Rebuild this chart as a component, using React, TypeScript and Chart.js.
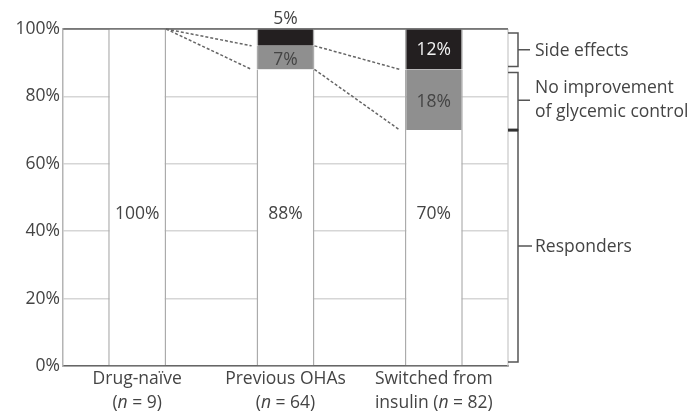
import React, { useEffect, useRef } from "react";
import { Chart, registerables } from "chart.js";

Chart.register(...registerables);

const categories = ["Drug-naïve", "Previous OHAs", "Switched from"];
const secondLinePrefix = ["", "", "insulin "];
const sampleSizes = [9, 64, 82];
const responders = [100, 88, 70];
const noImprovement = [0, 7, 18];
const sideEffects = [0, 5, 12];
const yTicks = [0, 20, 40, 60, 80, 100];
const bracketLabels = [["Side effects"], ["No improvement", "of glycemic control"], ["Responders"]];

const FONT = '"Open Sans", "DejaVu Sans", sans-serif';
const FS = 17.5;
const TEXT = "#444";

const overlay = {
  id: "overlay",
  beforeDatasetsDraw(chart: any) {
    const { ctx, chartArea } = chart;
    ctx.save();
    ctx.strokeStyle = "#c8c8c8";
    ctx.lineWidth = 1.2;
    ctx.beginPath();
    ctx.moveTo(chartArea.right, chartArea.top);
    ctx.lineTo(chartArea.right, chartArea.bottom);
    ctx.stroke();
    ctx.restore();
  },
  afterDatasetsDraw(chart: any) {
    const { ctx, chartArea } = chart;
    const y = chart.scales.y;
    const meta0 = chart.getDatasetMeta(0);
    const bars = meta0.data;
    ctx.save();

    // top border line at 100%
    ctx.strokeStyle = "#777";
    ctx.lineWidth = 1.5;
    ctx.beginPath();
    ctx.moveTo(chartArea.left, y.getPixelForValue(100));
    ctx.lineTo(chartArea.right, y.getPixelForValue(100));
    ctx.stroke();

    // dashed connectors
    ctx.strokeStyle = "#666";
    ctx.lineWidth = 1.5;
    ctx.setLineDash([3, 2]);
    for (let i = 0; i < bars.length - 1; i++) {
      const a = bars[i];
      const b = bars[i + 1];
      const ax = a.x + a.width / 2;
      const bx = b.x - b.width / 2 - 5;
      const aTop = y.getPixelForValue(responders[i] + noImprovement[i]);
      const aBot = y.getPixelForValue(responders[i]);
      const bTop = y.getPixelForValue(responders[i + 1] + noImprovement[i + 1]);
      const bBot = y.getPixelForValue(responders[i + 1]);
      ctx.beginPath();
      ctx.moveTo(ax, aTop);
      ctx.lineTo(bx, bTop);
      ctx.moveTo(ax, aBot);
      ctx.lineTo(bx, bBot);
      ctx.stroke();
    }
    ctx.setLineDash([]);

    // value labels
    ctx.font = `${FS}px ${FONT}`;
    ctx.textAlign = "center";
    ctx.textBaseline = "middle";
    for (let i = 0; i < bars.length; i++) {
      const x = bars[i].x;
      ctx.fillStyle = TEXT;
      ctx.fillText(`${responders[i]}%`, x, y.getPixelForValue(45));
      if (noImprovement[i] > 0) {
        ctx.fillStyle = TEXT;
        ctx.fillText(`${noImprovement[i]}%`, x, y.getPixelForValue(responders[i] + noImprovement[i] / 2) + 2);
      }
      if (sideEffects[i] > 0) {
        const top = responders[i] + noImprovement[i];
        if (sideEffects[i] < 8) {
          ctx.fillStyle = TEXT;
          ctx.fillText(`${sideEffects[i]}%`, x, y.getPixelForValue(100) - 10);
        } else {
          ctx.fillStyle = "#f2f2f2";
          ctx.fillText(`${sideEffects[i]}%`, x, y.getPixelForValue(top + sideEffects[i] / 2) + 1);
        }
      }
    }

    // x labels
    ctx.fillStyle = TEXT;
    for (let i = 0; i < bars.length; i++) {
      const x = bars[i].x;
      ctx.textAlign = "center";
      ctx.font = `${FS}px ${FONT}`;
      ctx.fillText(categories[i], x, chartArea.bottom + 13);
      const p1 = `${secondLinePrefix[i]}(`;
      const p3 = ` = ${sampleSizes[i]})`;
      ctx.font = `${FS}px ${FONT}`;
      const w1 = ctx.measureText(p1).width;
      const w3 = ctx.measureText(p3).width;
      ctx.font = `italic ${FS}px ${FONT}`;
      const w2 = ctx.measureText("n").width;
      let sx = x - (w1 + w2 + w3) / 2;
      const ly = chartArea.bottom + 37;
      ctx.textAlign = "left";
      ctx.font = `${FS}px ${FONT}`;
      ctx.fillText(p1, sx, ly);
      sx += w1;
      ctx.font = `italic ${FS}px ${FONT}`;
      ctx.fillText("n", sx, ly);
      sx += w2;
      ctx.font = `${FS}px ${FONT}`;
      ctx.fillText(p3, sx, ly);
    }

    // brackets on the right
    const last = bars.length - 1;
    const r = responders[last];
    const n = r + noImprovement[last];
    const ranges = [
      [y.getPixelForValue(100) + 4, y.getPixelForValue(n) - 3],
      [y.getPixelForValue(n) + 3, y.getPixelForValue(r)],
      [y.getPixelForValue(r), y.getPixelForValue(0) - 4],
    ];
    const cx = chartArea.right;
    const vx = cx + 10;
    ctx.strokeStyle = "#555";
    ctx.lineWidth = 1.5;
    ranges.forEach(([t, b], k) => {
      ctx.beginPath();
      ctx.moveTo(cx, t);
      ctx.lineTo(vx, t);
      ctx.lineTo(vx, b);
      ctx.lineTo(cx, b);
      const mid = (t + b) / 2 + (k === 1 ? -1 : 0);
      ctx.moveTo(vx, mid);
      ctx.lineTo(vx + (k === 2 ? 14 : 12), mid);
      ctx.stroke();
      ctx.fillStyle = TEXT;
      ctx.font = `${FS}px ${FONT}`;
      ctx.textAlign = "left";
      ctx.textBaseline = "middle";
      const lines = bracketLabels[k];
      if (lines.length === 1) {
        ctx.fillText(lines[0], vx + 17, mid + 1);
      } else {
        ctx.fillText(lines[0], vx + 17, mid - 12);
        ctx.fillText(lines[1], vx + 17, mid + 12);
      }
    });
    ctx.strokeStyle = "#333";
    ctx.lineWidth = 3;
    ctx.beginPath();
    ctx.moveTo(cx, ranges[1][1]);
    ctx.lineTo(vx, ranges[1][1]);
    ctx.stroke();

    ctx.restore();
  },
};

export default function App() {
  const ref = useRef<HTMLCanvasElement | null>(null);
  useEffect(() => {
    document.body.style.margin = "0";
    if (!ref.current) return;
    const border = { left: 1.5, right: 1.5, top: 0, bottom: 0 };
    const common = {
      borderColor: "#ababab",
      borderWidth: border,
      borderSkipped: false,
      barPercentage: 0.39,
      categoryPercentage: 1.0,
    };
    const chart = new Chart(ref.current, {
      type: "bar",
      data: {
        labels: categories,
        datasets: [
          { label: "Responders", data: responders, backgroundColor: "#ffffff", ...common },
          { label: "No improvement", data: noImprovement, backgroundColor: "#8f8f8f", ...common },
          { label: "Side effects", data: sideEffects, backgroundColor: "#231f20", ...common },
        ] as any,
      },
      options: {
        animation: false,
        responsive: true,
        maintainAspectRatio: false,
        layout: { padding: { left: 0, top: 29, right: 191, bottom: 0 } },
        plugins: { legend: { display: false }, tooltip: { enabled: false } },
        scales: {
          x: {
            stacked: true,
            grid: { display: false },
            border: { color: "#666", width: 1.5 },
            ticks: { display: false },
            afterFit: (s: any) => {
              s.height = 46;
            },
          },
          y: {
            stacked: true,
            min: 0,
            max: 100,
            afterBuildTicks: (s: any) => {
              s.ticks = yTicks.map((v) => ({ value: v }));
            },
            grid: {
              color: (c: any) => (c.tick && c.tick.value === 100 ? "#777" : "#d6d6d6"),
              lineWidth: 1.5,
              drawTicks: false,
            },
            border: { color: "#b4b4b4", width: 1.5 },
            ticks: {
              padding: 3,
              color: TEXT,
              font: { family: FONT, size: FS },
              callback: (v: any) => `${v}%`,
            },
            afterFit: (s: any) => {
              s.width = 63;
            },
          },
        },
      },
      plugins: [overlay],
    });
    return () => chart.destroy();
  }, []);
  return (
    <div style={{ position: "absolute", left: 0, top: 0, width: 699, height: 412 }}>
      <canvas ref={ref} />
    </div>
  );
}
